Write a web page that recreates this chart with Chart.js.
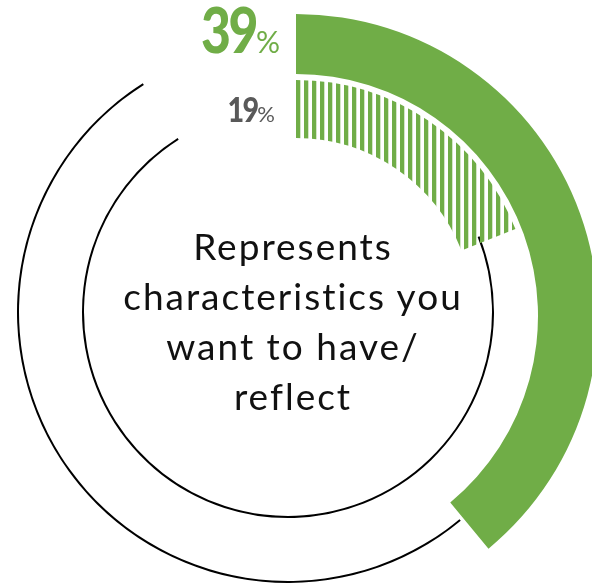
<!DOCTYPE html>
<html>
<head>
<meta charset="utf-8">
<script src="https://cdn.jsdelivr.net/npm/chart.js@4/dist/chart.umd.min.js"></script>
<style>
  html, body { margin: 0; padding: 0; background: #fff; overflow: hidden; }
  #stage { position: relative; width: 592px; height: 586px; overflow: hidden; background: #fff; }
  canvas { position: absolute; }
  #track { left: 17px; top: 41px; }
  #rings { left: -6px; top: 14px; }
  .lbl { position: absolute; font-family: Lato, "Open Sans", sans-serif; white-space: nowrap; text-align: right; }
  .lbl .num { display: inline-block; font-weight: 900; transform-origin: right bottom; }
  .lbl .pct { font-weight: 400; }
  #lblOuter { right: 312px; top: -3px; width: 120px; font-size: 63px; line-height: 63px; color: #70AD47; }
  #lblOuter .num { letter-spacing: -3px; transform: scaleX(0.82); }
  #lblOuter .pct { font-size: 30px; }
  #lblInner { right: 317px; top: 91px; width: 80px; font-size: 35px; line-height: 35px; color: #595959; }
  #lblInner .num { letter-spacing: -2px; transform: scaleX(0.82); }
  #lblInner .pct { font-size: 22px; }
  #centerText { position: absolute; left: 0; top: 221px; width: 586px; text-align: center;
    font-family: Lato, "Open Sans", sans-serif; font-size: 37px; line-height: 50px; letter-spacing: 2px; color: #111; }
</style>
</head>
<body>
<div id="stage">
  <canvas id="track" width="542" height="542"></canvas>
  <canvas id="rings" width="604" height="604"></canvas>
  <div id="lblOuter" class="lbl"><span class="num"></span><span class="pct">%</span></div>
  <div id="lblInner" class="lbl"><span class="num"></span><span class="pct">%</span></div>
  <div id="centerText"></div>
</div>
<script>
// Two shares shown as concentric rings (outer = first, inner = second), in percent.
const ringNames = ['Outer ring', 'Inner ring'];
const values = [39, 19];
const centerLines = ['Represents', 'characteristics you', 'want to have/', 'reflect'];

const GREEN = '#70AD47';
const CLEAR = 'rgba(0,0,0,0)';
const TRACK_GAP = 9;   // open stretch of each track, left free for the value labels

// Vertical green stripes for the inner ring
function stripes(color) {
  const c = document.createElement('canvas');
  c.width = 8; c.height = 8;
  const g = c.getContext('2d');
  g.fillStyle = color;
  g.fillRect(6, 0, 2, 8);
  g.fillRect(0, 0, 2.3, 8);
  return g.createPattern(c, 'repeat');
}

const common = {
  responsive: false,
  animation: false,
  events: [],
  layout: { padding: 0 },
  plugins: { legend: { display: false }, tooltip: { enabled: false } },
  elements: { arc: { borderWidth: 0, offset: 0, hoverOffset: 0 } }
};

// Thin black tracks carrying the remainder of each ring
new Chart(document.getElementById('track'), {
  type: 'doughnut',
  data: {
    labels: ['value', 'remainder', 'open'],
    datasets: [
      { label: ringNames[0], data: [values[0], 100 - values[0] - TRACK_GAP, TRACK_GAP],
        backgroundColor: [CLEAR, '#000', CLEAR], weight: 2 },
      { label: 'spacer', data: [100], backgroundColor: [CLEAR], weight: 63 },
      { label: ringNames[1], data: [values[1], 100 - values[1] - TRACK_GAP, TRACK_GAP],
        backgroundColor: [CLEAR, '#000', CLEAR], weight: 2 }
    ]
  },
  options: Object.assign({ cutout: 204 }, common)
});

// Value arcs: solid outer ring, striped inner ring
new Chart(document.getElementById('rings'), {
  type: 'doughnut',
  data: {
    labels: ['value', 'remainder'],
    datasets: [
      { label: ringNames[0], data: [values[0], 100 - values[0]],
        backgroundColor: [GREEN, CLEAR], weight: 60 },
      { label: 'spacer', data: [100], backgroundColor: [CLEAR], weight: 6 },
      { label: ringNames[1], data: [values[1], 100 - values[1]],
        backgroundColor: [stripes(GREEN), CLEAR], weight: 58 }
    ]
  },
  options: Object.assign({ cutout: 178 }, common)
});

document.querySelector('#lblOuter .num').textContent = String(values[0]);
document.querySelector('#lblInner .num').textContent = String(values[1]);
const ct = document.getElementById('centerText');
centerLines.forEach((line, i) => {
  if (i) ct.appendChild(document.createElement('br'));
  ct.appendChild(document.createTextNode(line));
});
</script>
</body>
</html>
